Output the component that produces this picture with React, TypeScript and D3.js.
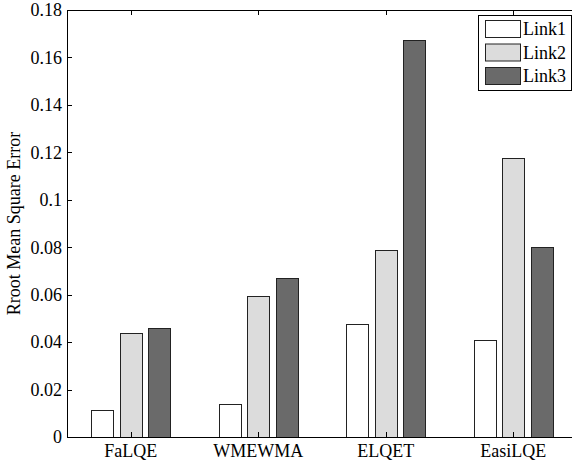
import React from "react";
import * as d3 from "d3";

// Estimator names along the x axis
const categories = ["FaLQE", "WMEWMA", "ELQET", "EasiLQE"];
// One series per link
const seriesNames = ["Link1", "Link2", "Link3"];
const link1 = [0.0114, 0.0141, 0.0475, 0.0409];
const link2 = [0.0437, 0.0595, 0.0788, 0.1178];
const link3 = [0.0458, 0.0671, 0.1674, 0.0802];
const yTicks = [0, 0.02, 0.04, 0.06, 0.08, 0.1, 0.12, 0.14, 0.16, 0.18];
const fills = ["#ffffff", "#dcdcdc", "#6a6a6a"];

const W = 572;
const H = 465;
const left = 67;
const right = 577;
const top = 10;
const bottom = 437;
const font = "'Liberation Serif', 'Times New Roman', serif";

export default function App() {
  const values = [link1, link2, link3];
  const x0 = d3.scaleBand<string>().domain(categories).range([left, right]);
  const groupW = 85.5;
  const x1 = d3
    .scaleBand<string>()
    .domain(seriesNames)
    .range([0, groupW])
    .paddingInner(0.228)
    .paddingOuter(0.114);
  const y = d3.scaleLinear().domain([0, 0.18]).range([bottom, top]);
  const fmt = (v: number) => (v === 0 ? "0" : String(+v.toFixed(2)));
  const center = (c: string) => (x0(c) as number) + x0.bandwidth() / 2;

  const legX = 478.5;
  const legY = 15.5;
  const legW = 93;
  const legH = 75;

  return (
    <svg
      width={W}
      height={H}
      style={{ position: "absolute", left: 0, top: 0, background: "#fff" }}
      fontFamily={font}
    >
      <rect x={0} y={0} width={W} height={H} fill="#fff" />
      {/* bars */}
      {categories.map((c, i) =>
        seriesNames.map((s, j) => {
          const v = values[j][i];
          const bx = center(c) - groupW / 2 + (x1(s) as number);
          return (
            <rect
              key={c + s}
              x={Math.round(bx) + 0.5}
              y={Math.round(y(v)) + 0.5}
              width={Math.round(x1.bandwidth())}
              height={Math.round(y(0)) - Math.round(y(v))}
              fill={fills[j]}
              stroke="#222"
              strokeWidth={1}
            />
          );
        })
      )}
      {/* axes box */}
      <path
        d={`M${left + 0.5},${top + 0.5}H${right}M${left + 0.5},${top + 0.5}V${bottom + 0.5}H${right}`}
        fill="none"
        stroke="#000"
        strokeWidth={1}
      />
      {/* y ticks */}
      {yTicks.map((t) => (
        <g key={t}>
          <line
            x1={left}
            x2={left + 5}
            y1={Math.round(y(t)) + 0.5}
            y2={Math.round(y(t)) + 0.5}
            stroke="#000"
          />
          <text
            x={62}
            y={y(t)}
            dy="0.35em"
            textAnchor="end"
            fontSize={18}
            fill="#000"
          >
            {fmt(t)}
          </text>
        </g>
      ))}
      {/* x ticks and labels */}
      {categories.map((c) => (
        <g key={c}>
          <line
            x1={Math.round(center(c)) + 0.5}
            x2={Math.round(center(c)) + 0.5}
            y1={bottom}
            y2={bottom - 5}
            stroke="#000"
          />
          <line
            x1={Math.round(center(c)) + 0.5}
            x2={Math.round(center(c)) + 0.5}
            y1={top}
            y2={top + 5}
            stroke="#000"
          />
          <text
            x={center(c)}
            y={457}
            textAnchor="middle"
            fontSize={18}
            fill="#000"
          >
            {c}
          </text>
        </g>
      ))}
      {/* y axis title */}
      <text
        transform={`translate(20,${(top + bottom) / 2}) rotate(-90)`}
        textAnchor="middle"
        fontSize={18}
        fill="#000"
      >
        Rroot Mean Square Error
      </text>
      {/* legend */}
      <rect
        x={legX}
        y={legY}
        width={legW}
        height={legH}
        fill="#fff"
        stroke="#000"
        strokeWidth={1}
      />
      {seriesNames.map((s, j) => (
        <g key={s}>
          <rect
            x={485.5}
            y={20.5 + j * 23.5}
            width={35}
            height={17}
            fill={fills[j]}
            stroke="#222"
          />
          <text x={523} y={35 + j * 23.5} fontSize={18} fill="#000">
            {s}
          </text>
        </g>
      ))}
    </svg>
  );
}
